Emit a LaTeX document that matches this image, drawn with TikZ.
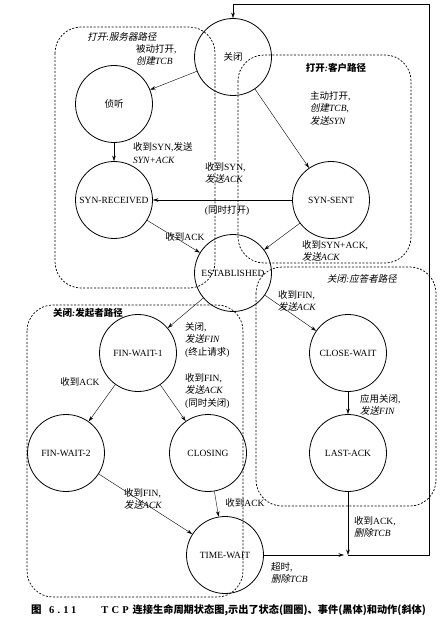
\documentclass[tikz,border=0pt]{standalone}
\usepackage{fontspec}
\setmainfont{Liberation Serif}
\newfontfamily\cjk{Noto Sans CJK SC}[AutoFakeSlant=0.2]
\newcommand{\zh}[1]{{\cjk #1}}
\usetikzlibrary{arrows.meta}

\begin{document}
\begin{tikzpicture}[x=1pt, y=-1pt, >={Stealth[length=5.5pt,width=3.5pt]},
   font=\fontsize{9.5}{12.5}\selectfont,
   st/.style={circle, draw, line width=0.8pt, minimum size=77pt, inner sep=0pt},
   lbl/.style={align=left, inner sep=0pt, anchor=west},
   region/.style={line width=0.7pt, dash pattern=on 2pt off 1.6pt, rounded corners=26pt}]
\useasboundingbox (0,0) rectangle (441,628);
% regions
\draw[region] (55,27) rectangle (215,288);
\draw[region] (238,55) rectangle (411,263);
\draw[region] (256,267) rectangle (436,506);
\draw[region] (27,305) rectangle (243,597);
% states
\node[st] (C) at (233,57) {\zh{关闭}};
\node[st] (L) at (114,104) {\zh{侦听}};
\node[st] (SR) at (114,200) {SYN-RECEIVED};
\node[st] (SS) at (331,200) {SYN-SENT};
\node[st] (E) at (233,273) {ESTABLISHED};
\node[st] (FW1) at (138,353) {FIN-WAIT-1};
\node[st] (CW) at (348,353) {CLOSE-WAIT};
\node[st] (FW2) at (66,453) {FIN-WAIT-2};
\node[st] (CL) at (208,453) {CLOSING};
\node[st] (LA) at (348,453) {LAST-ACK};
\node[st] (TW) at (225,555) {TIME-WAIT};
\coordinate (J) at (348,555);
\coordinate (BR) at (429,555);
\coordinate (TR) at (429,4);
\coordinate (TL) at (233,4);
% transitions
\draw[->] (C)--(L); \draw[->] (C)--(SS);
\draw[->] (L)--(SR); \draw[->] (SS)--(SR);
\draw[->] (SR)--(E); \draw[->] (SS)--(E);
\draw[->] (E)--(FW1); \draw[->] (E)--(CW);
\draw[->] (FW1)--(FW2); \draw[->] (FW1)--(CL);
\draw[->] (CW)--(LA);
\draw[->] (FW2)--(TW); \draw[->] (CL)--(TW);
\draw[->, shorten >=4pt] (TW)--(J); \draw[->] (LA)--(J);
\draw (J)--(BR)--(TR)--(TL); \draw[->] (TL)--(C);
% labels
\node (lsrv) at (122,37) {\zh{\itshape 打开}:\zh{\itshape 服务器路径}};
\node[lbl] (lpo) at (136,55) {\zh{被动打开},\\\textit{\zh{创建}TCB}};
\node (lcli) at (336,68) {\bfseries\itshape\zh{打开}:\zh{客户路径}};
\node[lbl] (lao) at (310,108) {\zh{主动打开},\\\textit{\zh{创建}TCB,}\\\textit{\zh{发送}SYN}};
\node[lbl] (lsyn) at (133,153) {\zh{收到}SYN,\zh{发送}\\\textit{SYN+ACK}};
\node[lbl] (lsim) at (205,173) {\zh{收到}SYN,\\\textit{\zh{发送}ACK}};
\node (lso) at (227,211) {(\zh{同时打开})};
\node (lack1) at (185,237) {\zh{收到}ACK};
\node[lbl] (lsa) at (302,251) {\zh{收到}SYN+ACK,\\\textit{\zh{发送}ACK}};
\node (lrsp) at (362,279) {\itshape\zh{关闭}:\zh{应答者路径}};
\node[lbl] (lfin1) at (278,301) {\zh{收到}FIN,\\\textit{\zh{发送}ACK}};
\node (lini) at (88,313) {\bfseries\itshape\zh{关闭}:\zh{发起者路径}};
\node[lbl] (lcls) at (185,340) {\zh{关闭},\\\textit{\zh{发送}FIN}\\(\zh{终止请求})};
\node (lack2) at (80,382) {\zh{收到}ACK};
\node[lbl] (lfin2) at (185,391) {\zh{收到}FIN,\\\textit{\zh{发送}ACK}\\(\zh{同时关闭})};
\node[lbl] (lapp) at (360,405) {\zh{应用关闭},\\\textit{\zh{发送}FIN}};
\node[lbl] (lfin3) at (124,499) {\zh{收到}FIN,\\\textit{\zh{发送}ACK}};
\node (lack3) at (245,503) {\zh{收到}ACK};
\node[lbl] (ldel) at (354,527) {\zh{收到}ACK,\\\textit{\zh{删除}TCB}};
\node[lbl] (ltmo) at (271,573) {\zh{超时},\\\textit{\zh{删除}TCB}};
\node[lbl] (cap) at (31,610) {\fontsize{10.5}{12}\selectfont\bfseries
  \zh{图}\hspace{7.5pt}{\addfontfeature{LetterSpace=30}6.11\hspace{25pt}TCP}\hspace{4pt}%
  {\fontsize{10.2}{12}\selectfont\zh{连接生命周期状态图,示出了状态(圆圈)、事件(黑体)和动作(斜体)}}};
\end{tikzpicture}
\end{document}
